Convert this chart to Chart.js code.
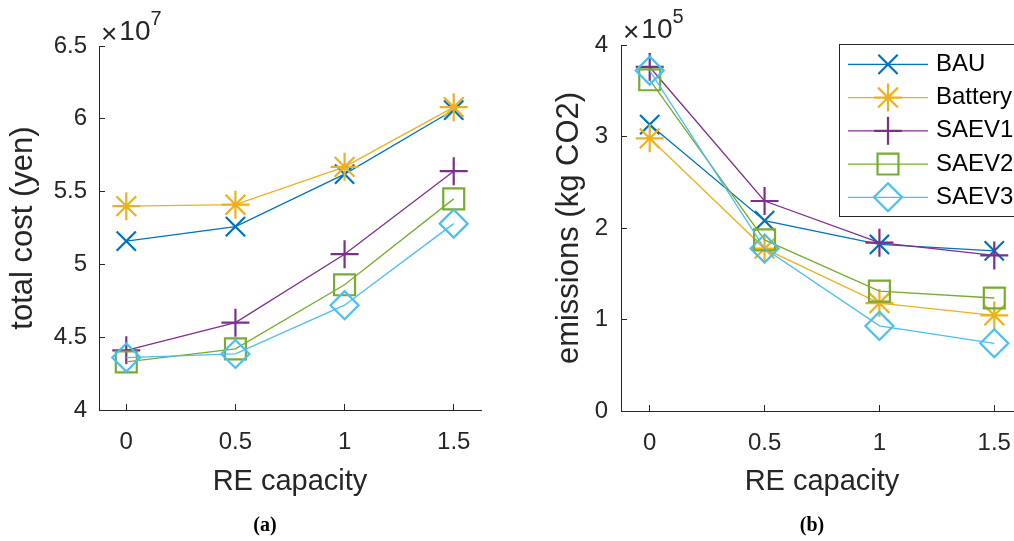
<!DOCTYPE html>
<html lang="en">
<head>
    <meta charset="UTF-8">
    <title>Total cost and emissions vs RE capacity</title>
    <script src="https://cdn.jsdelivr.net/npm/chart.js"></script>
    <style>
        html, body {
            margin: 0;
            padding: 0;
            background: #fff;
        }
        body {
            width: 1014px;
            height: 541px;
            position: relative;
            overflow: hidden;
            font-family: Arial, "Liberation Sans", sans-serif;
        }
        .panel {
            position: absolute;
            top: 0;
            width: 500px;
            height: 541px;
        }
        #panelA { left: 0; }
        #panelB { left: 540px; }

        .expo {
            position: absolute;
            font-size: 28px;
            line-height: 28px;
            color: #262626;
            white-space: nowrap;
        }
        .expo .times {
            position: relative;
            top: 3px;
            margin-right: 2px;
        }
        .expo sup {
            font-size: 20px;
            vertical-align: 15px;
            line-height: 0;
        }
        .caption {
            position: absolute;
            top: 513px;
            width: 60px;
            margin-left: -30px;
            text-align: center;
            font-family: "Liberation Serif", "DejaVu Serif", serif;
            font-weight: bold;
            font-size: 20px;
            line-height: 22px;
            color: #000;
        }
    </style>
</head>
<body>
    <div class="panel" id="panelA"><canvas id="costChart" width="500" height="541"></canvas></div>
    <div class="panel" id="panelB"><canvas id="emissionChart" width="500" height="541"></canvas></div>

    <div class="expo" style="left:101px; top:17px;"><span class="times">&times;</span>10<sup>7</sup></div>
    <div class="expo" style="left:623px; top:15px;"><span class="times">&times;</span>10<sup>5</sup></div>

    <div class="caption" style="left:265px;">(a)</div>
    <div class="caption" style="left:812px;">(b)</div>

    <script>
        // data
        const reCapacity = [0, 0.5, 1, 1.5];
        const seriesNames = ['BAU', 'Battery', 'SAEV1', 'SAEV2', 'SAEV3'];

        // total cost, in units of 1e7 yen
        const costBAU     = [5.16, 5.26, 5.62, 6.06];
        const costBattery = [5.40, 5.41, 5.67, 6.08];
        const costSAEV1   = [4.41, 4.60, 5.07, 5.64];
        const costSAEV2   = [4.33, 4.42, 4.86, 5.45];
        const costSAEV3   = [4.36, 4.385, 4.72, 5.28];

        // emissions, in units of 1e5 kg CO2
        const emisBAU     = [3.13, 2.08, 1.82, 1.75];
        const emisBattery = [2.98, 1.775, 1.18, 1.045];
        const emisSAEV1   = [3.76, 2.295, 1.84, 1.70];
        const emisSAEV2   = [3.62, 1.87, 1.31, 1.235];
        const emisSAEV3   = [3.72, 1.775, 0.93, 0.74];

        const xTicks = [0, 0.5, 1, 1.5];
        const costTicks = [4, 4.5, 5, 5.5, 6, 6.5];
        const emisTicks = [0, 1, 2, 3, 4];

        // styling
        const axisColor = '#262626';
        const colors = ['#0072BD', '#EDB120', '#7E2F8E', '#77AC30', '#4DBEEE'];
        const markers = ['crossRot', 'star', 'cross', 'rect', 'rectRot'];
        const markerRadius = [13.6, 14, 14, 14.8, 14];

        Chart.defaults.font.family = 'Arial, "Liberation Sans", sans-serif';
        Chart.defaults.color = axisColor;

        function makeDatasets(valueLists) {
            return valueLists.map((vals, i) => ({
                label: seriesNames[i],
                data: reCapacity.map((x, j) => ({ x: x, y: vals[j] })),
                borderColor: colors[i],
                borderWidth: 1.3,
                pointStyle: markers[i],
                pointRadius: markerRadius[i],
                pointHoverRadius: markerRadius[i],
                pointBorderColor: colors[i],
                pointBackgroundColor: 'rgba(0,0,0,0)',
                pointBorderWidth: 2.2,
                tension: 0,
                fill: false,
                clip: false,
                order: valueLists.length - i   // later series on top, like MATLAB
            }));
        }

        function fixedTicks(list) {
            return function (scale) {
                scale.ticks = list.map(v => ({ value: v }));
            };
        }

        function makeScales(c) {
            return {
                x: {
                    type: 'linear',
                    min: -0.125,
                    max: 1.625,
                    afterBuildTicks: fixedTicks(xTicks),
                    afterFit: s => { s.height = c.xHeight; },
                    grid: { display: true, drawOnChartArea: false, drawTicks: true, tickLength: -6, color: axisColor, lineWidth: 1 },
                    border: { display: true, color: axisColor, width: 1 },
                    ticks: { padding: 24, color: axisColor, font: { size: 24 }, maxRotation: 0, autoSkip: false, callback: v => String(v) },
                    title: { display: true, text: 'RE capacity', color: axisColor, font: { size: 29 }, padding: { top: 0, bottom: 42 } }
                },
                y: {
                    type: 'linear',
                    min: c.yMin,
                    max: c.yMax,
                    afterBuildTicks: fixedTicks(c.yTicks),
                    afterFit: s => { s.width = c.yWidth; },
                    grid: { display: true, drawOnChartArea: false, drawTicks: true, tickLength: -6, color: axisColor, lineWidth: 1 },
                    border: { display: true, color: axisColor, width: 1 },
                    ticks: { padding: c.yPad, color: axisColor, font: { size: 24 }, autoSkip: false, callback: v => String(v) },
                    title: { display: true, text: c.yTitle, color: axisColor, font: { size: 31 }, padding: { top: c.titlePad, bottom: 0 } }
                }
            };
        }

        // legend drawn inside the right plot, boxed like MATLAB
        const legendBox = {
            id: 'legendBox',
            afterDatasetsDraw(chart) {
                const ctx = chart.ctx;
                ctx.save();
                ctx.fillStyle = '#fff';
                ctx.fillRect(299.5, 44.5, 200, 172);
                ctx.strokeStyle = axisColor;
                ctx.lineWidth = 1;
                ctx.strokeRect(299.5, 44.5, 200, 172);

                seriesNames.forEach((name, i) => {
                    const y = 64.3 + i * 33.25;
                    ctx.strokeStyle = colors[i];
                    ctx.lineWidth = 1.3;
                    ctx.beginPath();
                    ctx.moveTo(308, y);
                    ctx.lineTo(388, y);
                    ctx.stroke();

                    ctx.lineWidth = 2.2;
                    ctx.fillStyle = 'rgba(0,0,0,0)';
                    Chart.helpers.drawPoint(ctx, {
                        pointStyle: markers[i],
                        radius: markerRadius[i],
                        rotation: 0,
                        borderWidth: 2.2
                    }, 348, y);

                    ctx.fillStyle = '#000';
                    ctx.font = '24px Arial, "Liberation Sans", sans-serif';
                    ctx.textAlign = 'left';
                    ctx.textBaseline = 'middle';
                    ctx.fillText(name, 396, y);
                });
                ctx.restore();
            }
        };

        const baseOptions = {
            responsive: false,
            animation: false,
            plugins: { legend: { display: false }, tooltip: { enabled: false } }
        };

        new Chart(document.getElementById('costChart'), {
            type: 'line',
            data: { datasets: makeDatasets([costBAU, costBattery, costSAEV1, costSAEV2, costSAEV3]) },
            options: Object.assign({}, baseOptions, {
                layout: { padding: { left: 0, top: 46, right: 19, bottom: 0 } },
                scales: makeScales({
                    yMin: 4, yMax: 6.5, yTicks: costTicks, yWidth: 99, yPad: 18,
                    yTitle: 'total cost (yen)', titlePad: 5, xHeight: 131
                })
            })
        });

        new Chart(document.getElementById('emissionChart'), {
            type: 'line',
            data: { datasets: makeDatasets([emisBAU, emisBattery, emisSAEV1, emisSAEV2, emisSAEV3]) },
            options: Object.assign({}, baseOptions, {
                layout: { padding: { left: 0, top: 45, right: 14, bottom: 0 } },
                scales: makeScales({
                    yMin: 0, yMax: 4, yTicks: emisTicks, yWidth: 81, yPad: 19,
                    yTitle: 'emissions (kg CO2)', titlePad: 11, xHeight: 130
                })
            }),
            plugins: [legendBox]
        });
    </script>
</body>
</html>
